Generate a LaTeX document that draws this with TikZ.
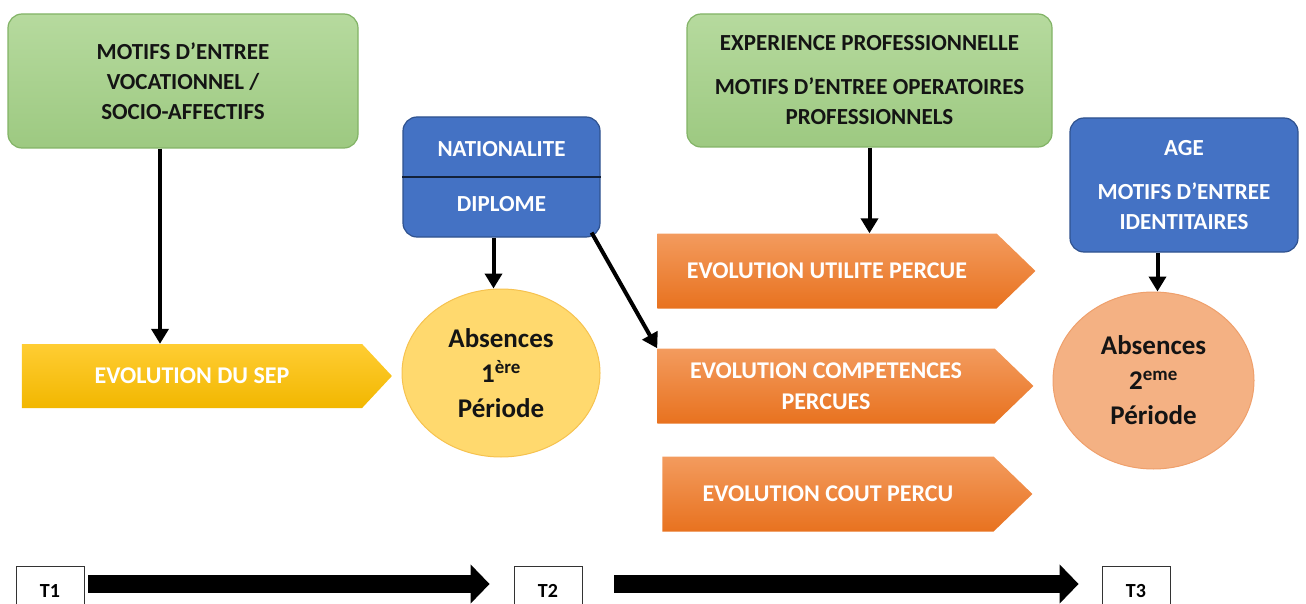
\documentclass[tikz,border=0pt]{standalone}
\usepackage{fontspec}
\setmainfont{Carlito}
\usetikzlibrary{arrows.meta,positioning,shapes.geometric,shapes.symbols}
\definecolor{ink}{RGB}{20,20,20}
\definecolor{leaftop}{HTML}{B6DA9E}
\definecolor{leafbot}{HTML}{9DC981}
\definecolor{leafline}{HTML}{82B366}
\definecolor{navy}{HTML}{4472C4}
\definecolor{navyline}{HTML}{2F528F}
\definecolor{suntop}{HTML}{FFCD33}
\definecolor{sunbot}{HTML}{F2B700}
\definecolor{rusttop}{HTML}{F39B5E}
\definecolor{rustbot}{HTML}{E8721F}
\definecolor{honey}{HTML}{FFD96E}
\definecolor{honeyline}{HTML}{F6C24F}
\definecolor{salmon}{HTML}{F4B183}
\definecolor{salmonline}{HTML}{EFA06C}

\begin{document}
\begin{tikzpicture}[x=1pt,y=-1pt,card/.style={rounded corners=14pt,align=center,font=\fontsize{23}{30}\selectfont\bfseries,line width=1.2pt},motif/.style={card,draw=leafline,top color=leaftop,bottom color=leafbot,text=ink},fixe/.style={card,draw=navyline,fill=navy,text=white},evo/.style={signal,signal to=east,signal from=nowhere,align=center,font=\fontsize{24}{31}\selectfont\bfseries,text=white,inner sep=0pt},period/.style={ellipse,align=center,font=\fontsize{27}{35}\selectfont\bfseries,text=ink,line width=1pt},tick/.style={draw=black!80,line width=.8pt,minimum width=68,minimum height=50,font=\fontsize{20}{22}\selectfont\bfseries},link/.style={-{Triangle[length=15pt,width=17pt]},line width=4pt,draw=black},span/.style={-{Triangle[length=19pt,width=38pt]},line width=18pt,draw=black}]
\useasboundingbox (0,0) rectangle (1306,604);
\clip (0,0) rectangle (1306,604);
% top row
\node[motif,minimum width=350,minimum height=134] (voc) at (183,81) {MOTIFS D’ENTREE\\VOCATIONNEL /\\SOCIO-AFFECTIFS};
\node[fixe,minimum width=197,minimum height=120] (nat) at (501.5,177) {NATIONALITE\\[25pt]DIPLOME};
\node[motif,minimum width=365,minimum height=133] (pro) at (869.5,80.5) {EXPERIENCE PROFESSIONNELLE\\[14pt]MOTIFS D’ENTREE OPERATOIRES\\PROFESSIONNELS};
\node[fixe,minimum width=228,minimum height=134] (age) at (1184,185) {AGE\\[14pt]MOTIFS D’ENTREE\\IDENTITAIRES};
\draw[navyline!40!black,line width=2pt] (nat.west) -- (nat.east);
% evolutions
\node[evo,top color=suntop,bottom color=sunbot,minimum width=370,minimum height=64,signal pointer angle=94] (sep) at (192,376) {EVOLUTION DU SEP};
\node[evo,top color=rusttop,bottom color=rustbot,minimum width=378,minimum height=75,signal pointer angle=88] (uti) at (827,271) {EVOLUTION UTILITE PERCUE};
\node[evo,top color=rusttop,bottom color=rustbot,minimum width=376,minimum height=75,signal pointer angle=88] (comp) at (826,386) {EVOLUTION COMPETENCES\\PERCUES};
\node[evo,top color=rusttop,bottom color=rustbot,minimum width=370,minimum height=75,signal pointer angle=88] (cout) at (828,494) {EVOLUTION COUT PERCU};
% absences
\node[period,draw=honeyline,fill=honey,minimum width=198,minimum height=168] (abs1) at (501,373) {Absences\\1\textsuperscript{ère}\\Période};
\node[period,draw=salmonline,fill=salmon,minimum width=201,minimum height=177] (abs2) at (1153.5,380.5) {Absences\\2\textsuperscript{eme}\\Période};
% time line
\node[tick] (t1) at (50,591) {T1};
\node[tick] (t2) at (548,591) {T2};
\node[tick] (t3) at (1136,591) {T3};
\draw[link] ([xshift=-23pt]voc.south) -- ([xshift=-23pt]voc.south |- sep.north);
\draw[link] ([xshift=-8pt]nat.south) -- ([xshift=-8pt]nat.south |- abs1.north);
\draw[link] ([xshift=-9pt,yshift=5pt]nat.south east) -- (comp.west |- comp.north);
\draw[link] (pro.south) -- (pro.south |- uti.north);
\draw[link] ([xshift=4pt]age.south -| abs2.north) -- ([xshift=4pt]abs2.north);
\draw[span,shorten <=4pt,shorten >=24pt] ([yshift=7pt]t1.east) -- ([yshift=7pt]t2.west);
\draw[span,shorten <=32pt,shorten >=23pt] ([yshift=7pt]t2.east) -- ([yshift=7pt]t3.west);
\end{tikzpicture}
\end{document}
